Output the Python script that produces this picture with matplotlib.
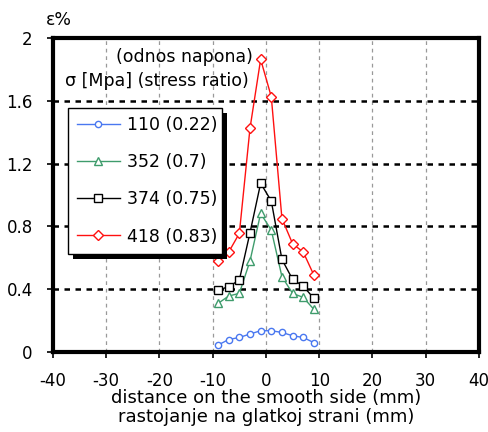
import matplotlib
matplotlib.use("Agg")
import matplotlib.pyplot as plt
from matplotlib.patches import Rectangle

# distance from the notch (mm)
x_mm = [-9, -7, -5, -3, -1, 1, 3, 5, 7, 9]

# strain in % for each stress level
eps_110 = [0.045, 0.08, 0.093, 0.115, 0.136, 0.136, 0.125, 0.104, 0.093, 0.06]
eps_352 = [0.31, 0.357, 0.374, 0.58, 0.883, 0.777, 0.48, 0.374, 0.348, 0.272]
eps_374 = [0.395, 0.416, 0.459, 0.76, 1.075, 0.962, 0.59, 0.463, 0.42, 0.342]
eps_418 = [0.58, 0.637, 0.756, 1.425, 1.864, 1.626, 0.85, 0.69, 0.637, 0.49]

labels = ['110 (0.22)', '352 (0.7)', '374 (0.75)', '418 (0.83)']
colors = ['#4a78f0', '#3f9c6c', 'black', '#ff1010']
markers = ['o', '^', 's', 'D']
msizes = [4.5, 5.5, 5.5, 5]

x_ticks = [-40, -30, -20, -10, 0, 10, 20, 30, 40]
y_ticks = [0, 0.4, 0.8, 1.2, 1.6, 2]
y_ticklabels = ['0', '0.4', '0.8', '1.2', '1.6', '2']

plt.rcParams['font.family'] = 'DejaVu Sans'

fig = plt.figure(figsize=(4.89, 4.32), dpi=100)
ax = fig.add_axes([0.1084, 0.185, 0.871, 0.727])

# grids: grey dashed verticals, black dotted horizontals
for xv in x_ticks[1:-1]:
    ax.axvline(xv, color='#999999', lw=0.9, ls=(0, (3, 3)), zorder=1)
for yv in y_ticks[1:-1]:
    ax.axhline(yv, color='black', lw=1.8, ls=(0, (2.2, 2.2)), zorder=1)

series = [eps_110, eps_352, eps_374, eps_418]
handles = []
for ys, lab, c, m, ms in zip(series, labels, colors, markers, msizes):
    h, = ax.plot(x_mm, ys, color=c, lw=1, marker=m, ms=ms, mfc='white',
                 mec=c, mew=1, label=lab, zorder=3)
    handles.append(h)

ax.set_xlim(-40, 40)
ax.set_ylim(0, 2)
ax.set_xticks(x_ticks)
ax.set_xticklabels([str(v) for v in x_ticks])
ax.set_yticks(y_ticks)
ax.set_yticklabels(y_ticklabels)
ax.tick_params(direction='out', length=4.5, width=1.2, labelsize=12)
ax.tick_params(axis='x', pad=10)
ax.tick_params(axis='y', pad=10)
for s in ax.spines.values():
    s.set_linewidth(3)

ax.set_xlabel('distance on the smooth side (mm)\nrastojanje na glatkoj strani (mm)',
              fontsize=13, labelpad=-1, linespacing=1.05)
fig.text(59 / 489, 1 - 20 / 432, 'ε%', fontsize=12.5, ha='center', va='center')

fig.text(65 / 489, 1 - 81 / 432, 'σ [Mpa] (stress ratio)', fontsize=12.5, va='center')
fig.text(116 / 489, 1 - 57 / 432, '(odnos napona)', fontsize=12.5, va='center')

leg = ax.legend(handles=handles, loc='upper left',
                bbox_to_anchor=(68 / 489, 1 - 108 / 432, 154 / 489, 0.001),
                bbox_transform=fig.transFigure, mode='expand',
                frameon=True, fancybox=False, edgecolor='black',
                fontsize=12.5, handlelength=2.5, labelspacing=1.1,
                borderaxespad=0, borderpad=0.5, handletextpad=0.4)
leg.get_frame().set_linewidth(1)
leg.get_frame().set_alpha(1)
leg.set_zorder(5)

# drop shadow behind the legend box, like the original
fig.canvas.draw()
bb = leg.get_frame().get_window_extent()
shadow = Rectangle((bb.x0 + 5, bb.y0 - 5), bb.width, bb.height,
                   transform=None, facecolor='black', zorder=4, clip_on=False)
ax.add_artist(shadow)

fig.savefig('out.png', dpi=100)
